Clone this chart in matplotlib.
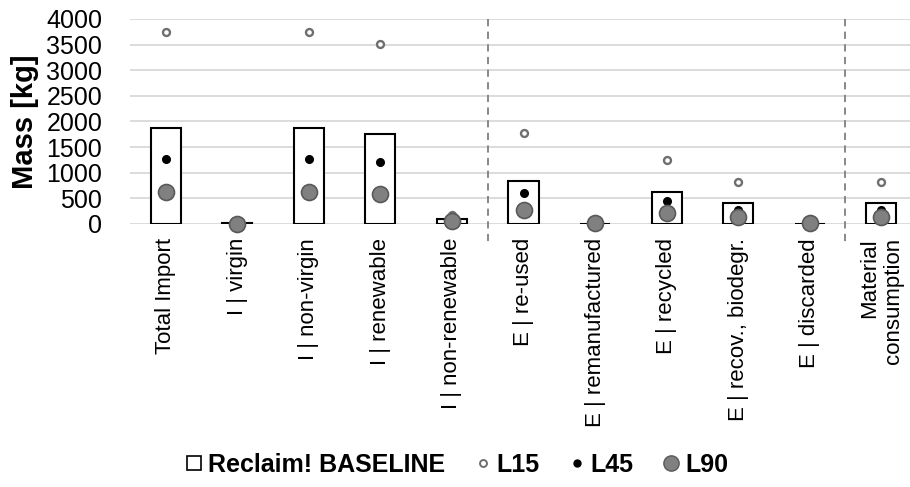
import numpy as np
import matplotlib.pyplot as plt
from matplotlib.lines import Line2D

plt.rcParams["font.family"] = ["Liberation Sans", "DejaVu Sans"]

categories = ["Total Import", "I | virgin", "I | non-virgin", "I | renewable",
              "I | non-renewable", "E | re-used", "E | remanufactured",
              "E | recycled", "E | recov., biodegr.", "E | discarded",
              "Material\nconsumption"]
baseline = [1870, 25, 1870, 1750, 100, 845, 0, 620, 400, 0, 400]
l15 = [3750, 0, 3750, 3520, 180, 1770, 0, 1240, 810, 0, 810]
l45 = [1270, 0, 1270, 1200, 100, 600, 0, 450, 280, 0, 280]
l90 = [620, 0, 620, 590, 50, 280, 20, 220, 145, 20, 145]
yticks = [0, 500, 1000, 1500, 2000, 2500, 3000, 3500, 4000]

x = np.arange(len(categories))
fig = plt.figure(figsize=(9.1, 4.87), dpi=100)
ax = fig.add_axes([130 / 910, 1 - 224 / 487, 787 / 910, 205 / 487])

ax.bar(x, baseline, width=0.42, facecolor="white", edgecolor="black", lw=1.5, zorder=2)
ax.plot(x, l15, "o", ls="none", ms=5, mfc="white", mec="#6f6f6f", mew=1.7, zorder=3, clip_on=False)
ax.plot(x, l45, "o", ls="none", ms=5.5, mfc="black", mec="black", zorder=4, clip_on=False)
ax.plot(x, l90, "o", ls="none", ms=11.5, mfc="#808080", mec="#595959", mew=1.2, zorder=5, clip_on=False)

ax.set_xlim(-0.5, len(categories) - 0.5)
ax.set_ylim(0, 4000)
ax.set_yticks(yticks)
ax.yaxis.grid(True, color="#d9d9d9", lw=1.3)
ax.set_axisbelow(True)
for s in ax.spines.values():
    s.set_visible(False)
ax.tick_params(length=0)
ax.set_yticklabels([str(v) for v in yticks], fontsize=18)
ax.tick_params(axis="y", pad=20)
ax.set_xticks(x)
ax.set_xticklabels(categories, rotation=90, fontsize=16, va="top", ha="center",
                   multialignment="right")
ax.tick_params(axis="x", pad=10)
ax.set_ylabel("Mass [kg]", fontsize=21, fontweight="bold", labelpad=5)

for xb in (4.5, 9.5):
    ax.plot([xb, xb], [4000, -420], ls=(0, (4, 3)), color="#7f7f7f", lw=1.3,
            clip_on=False, zorder=1)

handles = [
    Line2D([], [], marker="s", ls="none", ms=10, mfc="white", mec="black", mew=1.2),
    Line2D([], [], marker="o", ls="none", ms=5, mfc="white", mec="#6f6f6f", mew=1.4),
    Line2D([], [], marker="o", ls="none", ms=5, mfc="black", mec="black"),
    Line2D([], [], marker="o", ls="none", ms=11, mfc="#808080", mec="#595959"),
]
fig.legend(handles, ["Reclaim! BASELINE", "L15", "L45", "L90"], loc="center",
           bbox_to_anchor=(0.5, 1 - 465 / 487), ncol=4, frameon=False,
           prop={"size": 18, "weight": "bold"}, handletextpad=0.05,
           columnspacing=1.0, handlelength=1.0)

fig.savefig("out.png", dpi=100)
